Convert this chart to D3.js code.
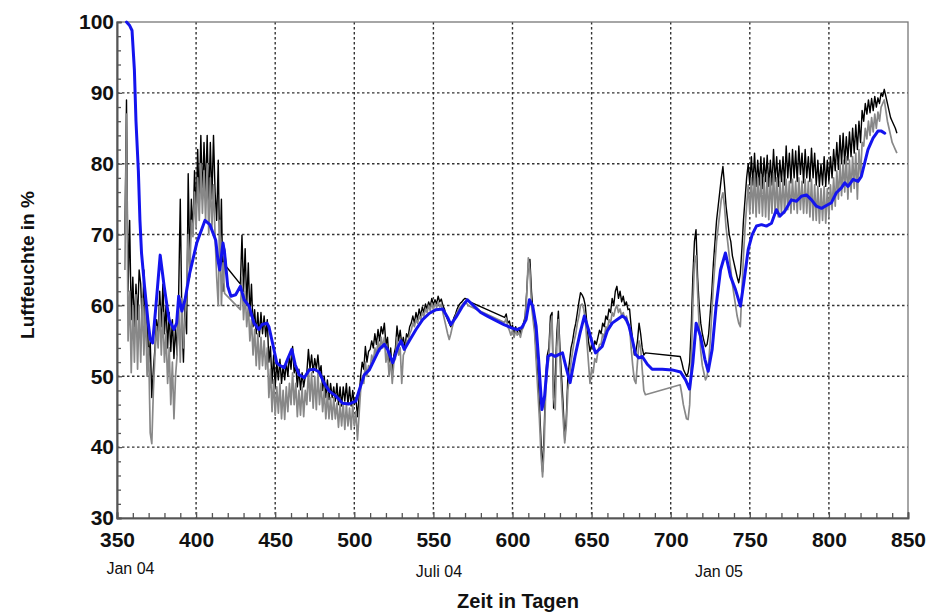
<!DOCTYPE html>
<html>
<head>
<meta charset="utf-8">
<script src="https://cdn.jsdelivr.net/npm/d3@7"></script>
<style>
  body { margin: 0; background: #fff; }
  svg { display: block; }
</style>
</head>
<body>
<svg id="chart" width="927" height="614"></svg>
<script>
// Daily relative humidity (%) from day 355 on; null = no reading (line bridges the gap)
const firstDay = 355;
const sensorA = [
  70, 89, 62, 72, 58, 64, 57, 63, 58, 65,
  63, 57, 65, 56, 60, 52, 55, 47, 51, 54,
  58, 56, 62, 57, 63, 56, 60, 54, 59, 53.5,
  58, 52.5, 57, 53, 62, 75, 58, 52, 60, 56,
  78.6, 66, 75, 70, 79, 73, 82, 74, 84, 75,
  83, 76, 84, 74, 83, 75, 84, 76, 72, 80.5,
  66, 75, 62, 68, 65.5, null, null, null, null, null,
  null, null, null, 63, 69.9, 62, 68, 60, 66, 58.5,
  63, 57, 59.4, 56, 59, 55.6, 59, 56, 58.5, 55.6,
  58, 52, 54.2, 49, 53, 48.5, 52, 49.5, 52.4, 49,
  51.5, 49.5, 52, 50, 53, 51, 54.2, 50.5, 51.5, 48.5,
  51, 48.1, 50.5, 48.5, 50, 50.5, 53.8, 51, 53, 50.5,
  52.5, 51, 53, 50.5, 51.5, 48, 50, 47, 49.5, 46.7,
  49, 47, 48.5, 46.5, 49, 46, 48.5, 45.8, 48.5, 46.5,
  49, 46, 48.5, 45.8, 48, 46, 47, 44.3, 47, 50,
  52, 51, 54.2, 52, 53.5, 53.8, 55, 54, 56, 54.5,
  56.6, 55, 57, 56, 57.5, 54.5, 55.5, 52, 54, 50.5,
  53, 54, 57.1, 55, 56.5, 54.5, 55.5, 54, 56, 55.5,
  57, 57.5, 58.5, 57.5, 59, 58, 59.5, 58.5, 59.8, 59,
  60.2, 59.5, 60.5, 59.8, 61, 60, 60.8, 60.2, 61.3, 60.5,
  60.9, 60, 59.5, 58.5, 58, 57.5, 57, 57.5, 58.3, 58.8,
  59.5, 60, 60.3, 60.5, 60.8, 61, 60.9, 60.6, null, null,
  null, null, null, null, null, null, null, null, null, null,
  null, null, null, null, null, null, null, null, null, null,
  58.3, 58.8, 57.5, 57.8, 56.8, 57.2, 56, 57, 56.2, 56.8,
  56, 57, 57.5, 58.5, 62, 66, 66.5, 62, 59, 57,
  53, 50, 46, 41, 36.5, 42, 50, 53, 54, 58.5,
  59, 45.5, 50, 56, 59.2, 54, 50, 46, 41, 44,
  50, 52, 54, 55, 56.5, 57.5, 59, 60.5, 61.8, 61.5,
  61, 60, 57.5, 55, 53.5, 54.5, 53.8, 55, 54.5, 55.5,
  56.5, 56, 57.5, 57, 58.5, 58, 59.5, 59, 61, 60,
  62, 62.7, 61, 62, 60.5, 61.3, 60, 60.5, 59.4, 59.5,
  57, 55, 53, 53.5, 55, 57.5, 56, 54, 53, 53.3,
  null, null, null, null, null, null, null, null, null, null,
  null, null, null, null, null, null, null, null, null, null,
  null, 52.8, 52, 51, 50.5, 50, 50.5, 52, 57, 64,
  69, 70.7, 64, 60, 57.5, 56, 55, 54.2, 54.5, 56,
  59, 62, 66, 69, 72, 74, 76, 78, 79.6, 77,
  74, 72, 70, 69, 67, 66, 65, 64, 63.2, 64.5,
  68, 72, 75, 78, 80, 77, 81, 77, 81.5, 76.8,
  80.5, 77, 81, 76.5, 80.8, 77.5, 81.2, 76.8, 80.5, 77,
  82, 77.5, 81, 76.8, 80.5, 77.5, 81, 77, 82.5, 78,
  81.5, 77.3, 82, 78, 81.8, 77.5, 82.5, 78.5, 81.5, 77.3,
  82, 78, 81, 77.5, 82.2, 78, 81.5, 77, 80.5, 76.8,
  80, 77, 81, 76.8, 80.5, 77.5, 81, 78, 82, 79,
  83, 79.2, 84, 80, 84.3, 80, 83.8, 80.5, 84.5, 81,
  85, 81.5, 85.5, 82, 86, 83, 87.5, 86, 88.5, 87,
  89, 87.2, 89.2, 87.5, 89.5, 88, 89.3, 88.5, 90, 89.5,
  90.5, 89.5, 88.5, 87.5, 86.5, 86, 85.5, 85, 84.3
];
const sensorB = [
  65, 87, 55, 62, 50.5, 60, 52, 61.5, 51, 60,
  52, 61, 53, 60, 50, 54, 42, 40.5, 48, 53,
  57, 54, 59.9, 53, 59, 52, 56, 49, 54, 46,
  52, 44, 50, 53, 60, 52, 61, 54, 58, 62,
  70, 64, 72, 69.7, 76, 71, 78, 72, 80, 73,
  79, 72, 80, 70, 78, 71, 77, 69.7, 64, 60,
  72, 60, 66, 61.7, null, null, null, null, null, null,
  null, null, null, 59.4, 64, 58, 62, 57, 60, 55,
  58, 53, 56.6, 51.5, 56, 51, 55.5, 51.5, 55, 51,
  54, 47, 51, 45, 49.5, 44.5, 48.5, 44.8, 49, 44,
  48, 43.9, 48.5, 45, 49, 46, 50.5, 46, 49, 44.3,
  48, 44.5, 48.5, 44.3, 48, 46, 51, 46.5, 50.5, 45.5,
  50, 45.3, 50.5, 46, 49, 45, 48, 44, 47.6, 44,
  47, 43.9, 47, 44, 46.2, 42.8, 46, 43, 46.2, 42.5,
  46, 43, 45.5, 42.5, 46, 43, 45, 41, 44.5, 48,
  50, 49, 52, 50, 51.5, 51, 53, 52, 54, 53,
  55, 53.5, 55.5, 54, 55.5, 52, 53.5, 50, 52.5, 49,
  52, 52.5, 55.5, 53, 54, 49, 53, 53.5, 55, 55,
  56, 56.5, 57.5, 57, 58, 57.5, 58.5, 58, 59, 58.5,
  59.5, 59, 60, 59.3, 60.3, 59.5, 60.3, 59.7, 60.5, 59.8,
  60.2, 59, 58, 57, 56, 55.2, 56, 57, 57.8, 58.5,
  59, 59.5, 59.8, 60, 60.3, 60.5, 60.3, 60, null, null,
  null, null, null, null, null, null, null, null, null, null,
  null, null, null, null, null, null, null, null, null, null,
  57.6, 58.2, 57, 56.5, 55.8, 56.5, 55.5, 56.5, 55.8, 56.2,
  55.5, 56.5, 57, 58, 61.5, 66.7, 65, 60, 58, 56,
  52, 48, 44, 39, 35.8, 40, 48, 51, 52.5, 57,
  58.5, 47, 45.3, 54, 58, 52, 48, 44, 40.6, 43,
  48, 50, 52, 53.5, 55, 56, 57.5, 58.5, 60, 60.2,
  59.5, 58, 55, 52, 49, 51, 50.5, 52.5, 52, 53.5,
  54.5, 54.5, 56, 55.5, 57, 56.5, 58, 57.5, 59, 58.5,
  59.5, 60, 59, 59.5, 58.5, 59, 58, 58.5, 57.5, 57,
  54, 51.5, 49.5, 49, 52, 55, 54, 51, 48, 47.4,
  null, null, null, null, null, null, null, null, null, null,
  null, null, null, null, null, null, null, null, null, null,
  null, 48.8, 47.5, 46, 45, 44, 43.9, 46, 52, 60,
  66, 67, 62, 57, 53.5, 51.5, 50.5, 49.5, 50, 52,
  55, 59, 63, 66, 69, 71, 73, 75, 75.9, 74,
  71, 69, 67, 65, 63, 61.5, 60, 58.5, 57.5, 57,
  62, 67, 71, 74, 77, 73, 78, 73, 78.7, 72.5,
  78, 73, 78.5, 72.6, 78, 72.5, 78.5, 72.1, 78, 73,
  78.7, 73, 78, 72.5, 77.5, 73, 78, 73, 77.8, 73.5,
  77.5, 73, 77.8, 73.5, 77.5, 73, 78, 73.5, 77.5, 73,
  77.8, 73, 77.5, 72.5, 77.8, 72, 77, 72, 76.8, 71.6,
  76.5, 72, 76.8, 71.6, 76.5, 72.5, 77, 73.5, 78, 74,
  79, 75, 80, 75.5, 80.5, 76, 81, 75, 80.5, 76,
  81, 76.5, 81.5, 75, 82, 78, 83, 82.5, 85, 83.5,
  86, 84, 86.5, 84.5, 87, 85, 87.3, 86, 88, 88.5,
  89, 87.5, 86, 85, 84, 83, 82.5, 82, 81.5
];

// Smoothed series: day and humidity
const smoothDays = [
  356, 358, 359.5, 361, 362, 363.5, 364.5, 365.5, 367.4, 369.5,
  371, 372.5, 374.6, 377.3, 379.8, 382.9, 386, 387.7, 389, 391,
  393, 396, 400.4, 405.6, 408.7, 412.4, 413.8, 414.9, 417, 418,
  420, 422, 425, 428, 430.4, 433.5, 436.6, 439.7, 441.7, 444.8,
  446, 448.3, 451, 452.5, 455.7, 457.8, 460.5, 462.7, 465.2, 468.4,
  471.5, 474.7, 477.8, 481, 484.2, 488.4, 492.6, 496.8, 501, 503.2,
  506.3, 509.5, 512.7, 515.8, 519, 521, 524.3, 527.4, 529.5, 531.6,
  534.8, 539, 543.2, 547.5, 551.7, 555.9, 559, 561, 564.2, 568.4,
  571.5, 575.7, 579.9, 584.1, 589.3, 594.6, 599.8, 602.9, 606, 608.6,
  610.7, 612.8, 614.9, 616.5, 617.6, 618.6, 620.3, 622.4, 624.5, 627,
  629.5, 631.6, 633.7, 636.4, 639.5, 642.7, 645.4, 648, 650.4, 652.5,
  656.7, 659.9, 663, 666.2, 669.4, 671.5, 673.6, 675.7, 677.8, 679.9,
  682, 685.2, 688.3, 694.6, 700.9, 706.2, 709.4, 711.9, 714, 716.1,
  718.8, 721.6, 723.7, 726.2, 728.7, 731.5, 734.6, 737.8, 741, 744.1,
  746.2, 749, 751.5, 754.2, 757.4, 760.5, 763.7, 766.8, 769, 772.1,
  776.3, 779.5, 782.6, 785.8, 789, 792.1, 795.3, 798.4, 801.6, 804.7,
  807.9, 810, 812.1, 815.3, 818.4, 820.5, 822.6, 824.7, 827.9, 831,
  833.2, 835.3
];
const smoothValues = [
  100, 99.5, 98.8, 93.2, 86, 79, 72, 67.4, 62.7, 58,
  55.2, 54.7, 59.9, 67.1, 62.7, 58, 56.6, 57.5, 61.3, 59.2,
  60.8, 64.6, 68.8, 72, 71.4, 69.2, 66.4, 65, 68.8, 67.4,
  62.7, 61.3, 61.5, 62.7, 60.8, 59.9, 57.5, 56.6, 57.3, 57.5,
  57, 54.7, 51.9, 51.6, 51.2, 52.4, 53.8, 51.6, 50.2, 49.8,
  50.9, 51, 50.6, 49, 47.9, 47.2, 46.2, 46.1, 46.5, 48.1,
  50.2, 50.9, 52.4, 53.8, 54.5, 53.8, 51.9, 54, 55, 53.8,
  55, 56.6, 58, 58.9, 59.4, 59.5, 58.3, 57.3, 58.3, 59.9,
  60.8, 59.9, 59, 58.5, 57.9, 57.3, 56.8, 56.6, 56.9, 58,
  60.8, 59.9, 57.1, 52.4, 48.6, 45.3, 47.2, 52.8, 53.1, 52.8,
  53.1, 53.3, 51.4, 49.1, 52.8, 56.1, 58.5, 56.6, 54.7, 53.3,
  54.2, 56.4, 57.5, 58, 58.5, 58.2, 57.1, 55.2, 53.1, 52.6,
  52.8, 51.7, 51, 51, 50.9, 50.6, 49.5, 48.2, 51.9, 57.5,
  55.7, 52.4, 50.7, 53.8, 59.9, 65, 67.4, 64.1, 62.2, 59.9,
  63.2, 67.9, 70, 71.2, 71.4, 71.2, 71.6, 73.5, 72.6, 73.3,
  74.9, 74.7, 75.4, 75.6, 74.9, 74, 73.7, 74.1, 74.5, 75.9,
  76.6, 77.3, 76.8, 77.8, 77.5, 78.2, 80.1, 82, 83.6, 84.6,
  84.6, 84.3
];

const xTicks = [350, 400, 450, 500, 550, 600, 650, 700, 750, 800, 850];
const yTicks = [30, 40, 50, 60, 70, 80, 90, 100];
const dateLabels = ["Jan 04", "Juli 04", "Jan 05"];
const dateLabelDays = [358.5, 553.5, 730.5];

const svg = d3.select("#chart");
const plotLeft = 117, plotRight = 908, plotTop = 22, plotBottom = 518;
const x = d3.scaleLinear().domain([350, 850]).range([plotLeft, plotRight]);
const y = d3.scaleLinear().domain([30, 100]).range([plotBottom, plotTop]);

const font = "'Liberation Sans', Arial, sans-serif";

// dotted grid
const grid = svg.append("g").attr("stroke", "#333").attr("stroke-width", 1.4)
  .attr("stroke-dasharray", "2.5,2.5");
grid.selectAll("line.v").data(xTicks.slice(1, -1)).join("line")
  .attr("x1", d => x(d)).attr("x2", d => x(d)).attr("y1", plotTop).attr("y2", plotBottom);
grid.selectAll("line.h").data(yTicks.slice(1, -1)).join("line")
  .attr("x1", plotLeft).attr("x2", plotRight).attr("y1", d => y(d)).attr("y2", d => y(d));

// frame
svg.append("rect").attr("x", plotLeft).attr("y", plotTop)
  .attr("width", plotRight - plotLeft).attr("height", plotBottom - plotTop)
  .attr("fill", "none").attr("stroke", "#777").attr("stroke-width", 1.3);

// series
const toPoints = arr => arr.map((v, i) => ({ day: firstDay + i, v }))
  .filter(d => d.v !== null);
const line = d3.line().x(d => x(d.day)).y(d => y(d.v));

svg.append("path").datum(toPoints(sensorA))
  .attr("d", line).attr("fill", "none").attr("stroke", "#000").attr("stroke-width", 1.4)
  .attr("stroke-linejoin", "round");
svg.append("path").datum(toPoints(sensorB))
  .attr("d", line).attr("fill", "none").attr("stroke", "#888").attr("stroke-width", 1.7)
  .attr("stroke-linejoin", "round");
svg.append("path").datum(smoothDays.map((d, i) => ({ day: d, v: smoothValues[i] })))
  .attr("d", line).attr("fill", "none").attr("stroke", "#1414ee").attr("stroke-width", 3)
  .attr("stroke-linejoin", "round").attr("stroke-linecap", "round");

// axes with inward ticks
const yAxis = svg.append("g").attr("transform", `translate(${plotLeft},0)`)
  .call(d3.axisLeft(y).tickValues(yTicks).tickSize(-5).tickPadding(3).tickFormat(d3.format("d")));
const yMinor = svg.append("g").attr("transform", `translate(${plotLeft},0)`)
  .call(d3.axisLeft(y).tickValues(d3.range(32, 100, 2).filter(v => v % 10 !== 0))
    .tickSize(-4).tickFormat(""));
const xAxis = svg.append("g").attr("transform", `translate(0,${plotBottom})`)
  .call(d3.axisBottom(x).tickValues(xTicks).tickSize(-6).tickPadding(11).tickFormat(d3.format("d")));
const xMinor = svg.append("g").attr("transform", `translate(0,${plotBottom})`)
  .call(d3.axisBottom(x).tickValues(d3.range(360, 850, 10).filter(v => v % 50 !== 0))
    .tickSize(-5).tickFormat(""));

[yAxis, yMinor, xAxis, xMinor].forEach(g => {
  g.select(".domain").attr("stroke", "#555").attr("stroke-width", 1.6);
  g.selectAll(".tick line").attr("stroke", "#555").attr("stroke-width", 1.3);
});
[yAxis, xAxis].forEach(g => {
  g.selectAll(".tick text").attr("fill", "#111")
    .style("font-family", font).style("font-size", "21px").style("font-weight", "bold");
});
xAxis.selectAll(".tick text").attr("dy", "0.85em");

// month markers under the axis
svg.append("g").selectAll("text").data(dateLabels).join("text")
  .attr("x", (d, i) => x(dateLabelDays[i]))
  .attr("y", (d, i) => i === 0 ? 574 : 577)
  .attr("text-anchor", "middle")
  .style("font-family", font).style("font-size", "16px").attr("fill", "#111")
  .text(d => d);

// axis titles
svg.append("text")
  .attr("transform", `translate(34,265) rotate(-90)`)
  .attr("text-anchor", "middle")
  .style("font-family", font).style("font-size", "19px").style("font-weight", "bold")
  .attr("fill", "#111")
  .text("Luftfeuchte in %");
svg.append("text")
  .attr("x", 518).attr("y", 608)
  .attr("text-anchor", "middle")
  .style("font-family", font).style("font-size", "20px").style("font-weight", "bold")
  .attr("fill", "#111")
  .text("Zeit in Tagen");
</script>
</body>
</html>
